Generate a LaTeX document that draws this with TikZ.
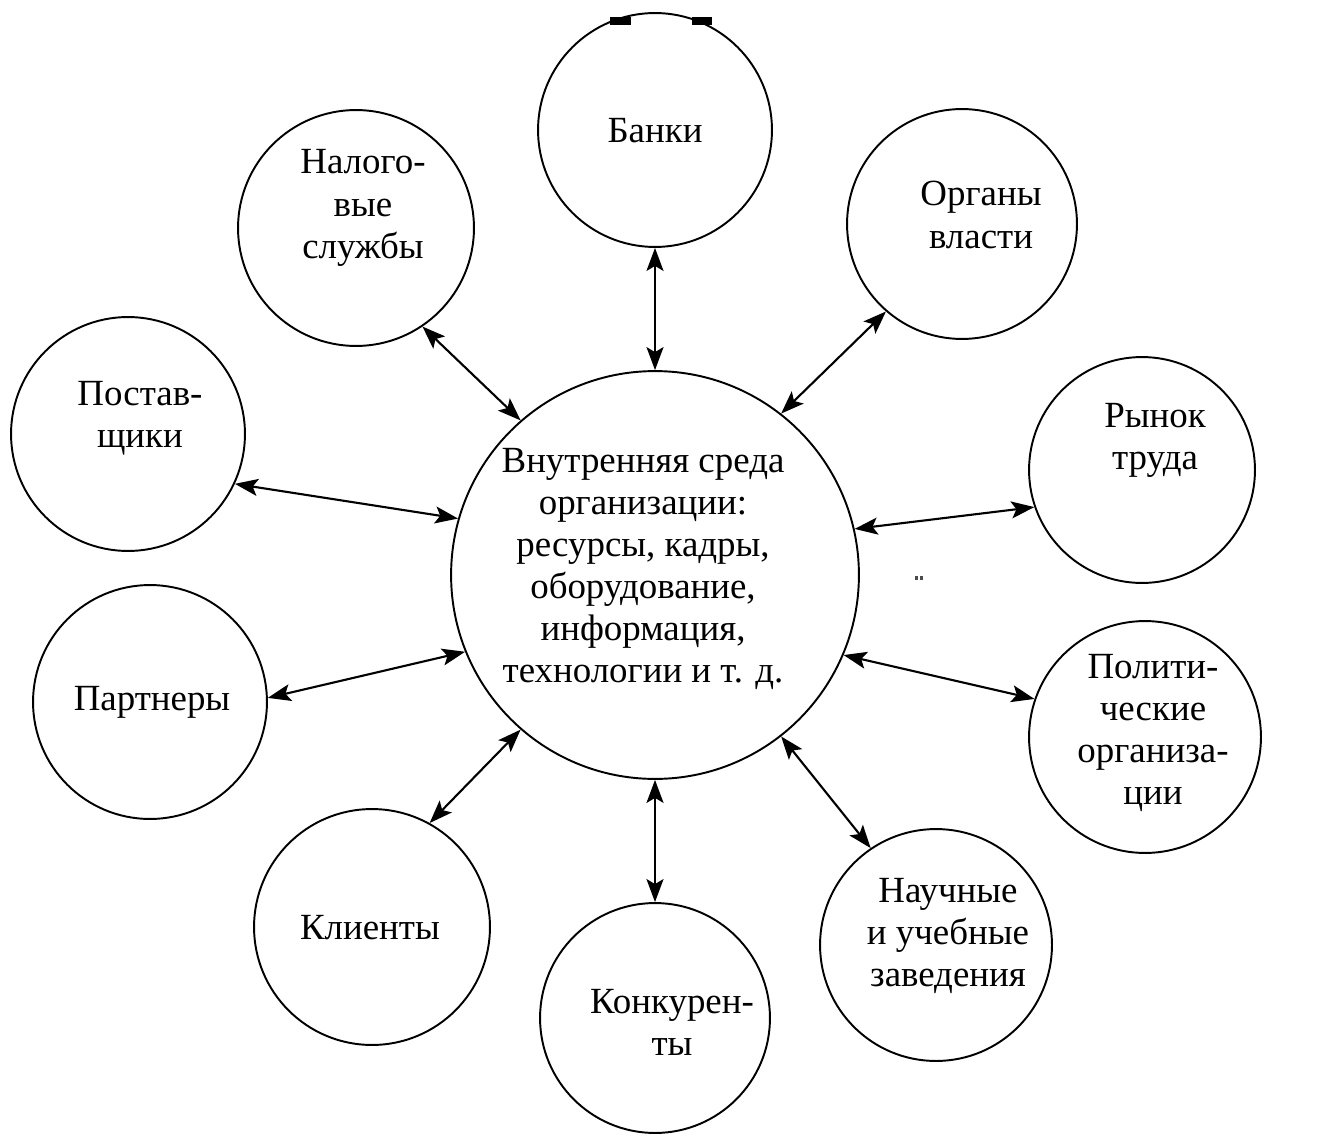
\documentclass[tikz,border=0pt]{standalone}
\usepackage{fontspec}
\setmainfont{Liberation Serif}
\newfontfamily\labelserif{Liberation Serif}
\usetikzlibrary{arrows.meta}
\begin{document}
\begin{tikzpicture}[x=0.02cm,y=-0.02cm,
  ring/.style={circle,draw,line width=1.1pt,minimum size={#1*0.04cm},inner sep=0pt},
  lbl/.style={align=center,font=\labelserif\fontsize{21}{24}\selectfont,inner sep=0pt},
  tip/.style={Stealth[length=0.46cm,width=0.34cm,inset=0.1cm]},
  link/.style={{Stealth[length=0.46cm,width=0.34cm,inset=0.1cm]}-{Stealth[length=0.46cm,width=0.34cm,inset=0.1cm]},line width=1.2pt}]
\useasboundingbox[fill=white] (0,0) rectangle (1327,1135);

% circles
\node[ring=204] (inner)   at (655,575)  {};
\node[ring=117] (banks)   at (655,130)  {};
\node[ring=115] (gov)     at (962,224)  {};
\node[ring=118] (tax)     at (356,228)  {};
\node[ring=117] (supp)    at (128,434)  {};
\node[ring=113] (labour)  at (1142,470) {};
\node[ring=117] (partn)   at (150,702)  {};
\node[ring=116] (polit)   at (1145,737) {};
\node[ring=116] (sci)     at (936,945)  {};
\node[ring=115] (comp)    at (655,1018) {};
\node[ring=118] (clients) at (372,927)  {};

% texts
\node[lbl] (t-inner)   at (643,569)  {Внутренняя среда\\организации:\\ресурсы, кадры,\\оборудование,\\информация,\\технологии и т. д.};
\node[lbl] (t-banks)   at (655,131)  {Банки};
\node[lbl] (t-gov)     at (981,215)  {Органы\\власти};
\node[lbl] (t-tax)     at (363,208)  {Налого-\\вые\\службы};
\node[lbl] (t-supp)    at (140,418)  {Постав-\\щики};
\node[lbl] (t-labour)  at (1155,440) {Рынок\\труда};
\node[lbl] (t-partn)   at (152,702)  {Партнеры};
\node[lbl] (t-polit)   at (1153,733) {Полити-\\ческие\\организа-\\ции};
\node[lbl] (t-sci)     at (948,936)  {Научные\\и учебные\\заведения};
\node[lbl] (t-comp)    at (672,1022) {Конкурен-\\ты};
\node[lbl] (t-clients) at (370,928)  {Клиенты};

% connectors
\draw[link] (banks.270)   -- (inner.90);
\draw[link] (gov.229)     -- (inner.52);
\draw[link] (tax.304)     -- (inner.131);
\draw[link] (supp.335)    -- (inner.164);
\draw[link] (labour.199)  -- (inner.13);
\draw[link] (partn.2)     -- (inner.202);
\draw[link] (polit.161)   -- (inner.337);
\draw[link] (clients.61)  -- (inner.229);
\draw[link] (comp.90)     -- (inner.270);
\draw[link] (sci.124)     -- (inner.308);

% scan marks
\fill (610,17) rectangle (631,25);
\fill (692,17) rectangle (712,25);
\fill[black!70] (915,576) rectangle (918,580);
\fill[black!70] (920,576) rectangle (923,580);
\end{tikzpicture}
\end{document}
